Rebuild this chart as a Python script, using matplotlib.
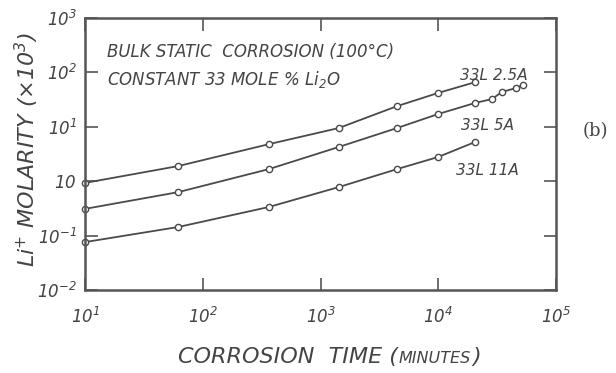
import numpy as np
import matplotlib
matplotlib.use('Agg')
import matplotlib.pyplot as plt
from matplotlib.offsetbox import TextArea, HPacker, AnchoredOffsetbox

# 读图得到的数据 (corrosion time, minutes ; Li+ molarity x10^3)
t_25A = [10, 62, 365, 1430, 4470, 10000, 20500]
m_25A = [0.93, 1.9, 4.8, 9.5, 24, 42, 66]

t_5A = [10, 62, 365, 1430, 4470, 10000, 20500, 28600, 34700, 45700, 52500]
m_5A = [0.31, 0.63, 1.67, 4.26, 9.5, 17.2, 27.4, 32.4, 43.7, 51.6, 58.6]

t_11A = [10, 62, 365, 1430, 4470, 10000, 20500]
m_11A = [0.076, 0.144, 0.336, 0.78, 1.67, 2.79, 5.25]

xticks = [1e1, 1e2, 1e3, 1e4, 1e5]
xticklabels = [r'$10^{1}$', r'$10^{2}$', r'$10^{3}$', r'$10^{4}$', r'$10^{5}$']
yticks = [1e-2, 1e-1, 1e0, 1e1, 1e2, 1e3]
yticklabels = [r'$10^{-2}$', r'$10^{-1}$', r'$10$', r'$10^{1}$', r'$10^{2}$', r'$10^{3}$']

ink = '#444444'
plt.rcParams['mathtext.fontset'] = 'custom'
plt.rcParams['mathtext.rm'] = 'DejaVu Sans:italic'
plt.rcParams['mathtext.it'] = 'DejaVu Sans:italic'

fig = plt.figure(figsize=(6.16, 3.73), dpi=100)
ax = fig.add_axes([0.138, 0.2225, 0.7646, 0.7292])

line_kw = dict(color='#4a4a4a', lw=1.3, marker='o', ms=4.5, mfc='white',
               mec='#4a4a4a', mew=1.0, clip_on=False)
ax.plot(t_25A, m_25A, **line_kw)
ax.plot(t_5A, m_5A, **line_kw)
ax.plot(t_11A, m_11A, **line_kw)

ax.set_xscale('log')
ax.set_yscale('log')
ax.set_xlim(1e1, 1e5)
ax.set_ylim(1e-2, 1e3)
ax.set_xticks(xticks)
ax.set_xticklabels(xticklabels, fontsize=12, color=ink)
ax.set_yticks(yticks)
ax.set_yticklabels(yticklabels, fontsize=12, color=ink)
ax.minorticks_off()
ax.tick_params(which='major', direction='in', length=9, width=1.2, color='#555555',
               top=True, right=True)
ax.tick_params(axis='x', pad=12)
ax.tick_params(axis='y', pad=6)
for s in ax.spines.values():
    s.set_linewidth(1.8)
    s.set_color('#555555')

# 注释文字
ax.text(0.047, 0.875, 'BULK STATIC  CORROSION (100°C)', transform=ax.transAxes,
        fontsize=12, style='italic', color=ink, va='center')
ax.text(0.047, 0.775, r'CONSTANT 33 MOLE % Li$_{2}$O', transform=ax.transAxes,
        fontsize=12, style='italic', color=ink, va='center')

ax.text(0.867, 0.79, '33L 2.5A', transform=ax.transAxes, fontsize=11,
        style='italic', color=ink, ha='center', va='center')
ax.text(0.855, 0.605, '33L 5A', transform=ax.transAxes, fontsize=11,
        style='italic', color=ink, ha='center', va='center')
ax.text(0.855, 0.44, '33L 11A', transform=ax.transAxes, fontsize=11,
        style='italic', color=ink, ha='center', va='center')

fig.text(0.966, 0.648, '(b)', fontsize=13, family='DejaVu Serif', color=ink,
         ha='center', va='center')

fig.text(0.044, 0.6, r'Li$^{+}$ MOLARITY (×10$^{3}$)', fontsize=16, style='italic',
         color=ink, rotation=90, ha='center', va='center')

# x 轴标题, MINUTES 用小号大写
parts = [TextArea('CORROSION  TIME (', textprops=dict(fontsize=16, style='italic', color=ink)),
         TextArea('MINUTES', textprops=dict(fontsize=11.5, style='italic', color=ink)),
         TextArea(')', textprops=dict(fontsize=16, style='italic', color=ink))]
box = HPacker(children=parts, align='baseline', pad=0, sep=1)
anchored = AnchoredOffsetbox(loc='center', child=box, frameon=False,
                             bbox_to_anchor=(0.535, 0.043), bbox_transform=fig.transFigure,
                             borderpad=0)
fig.add_artist(anchored)

fig.savefig('out.png', dpi=100)
